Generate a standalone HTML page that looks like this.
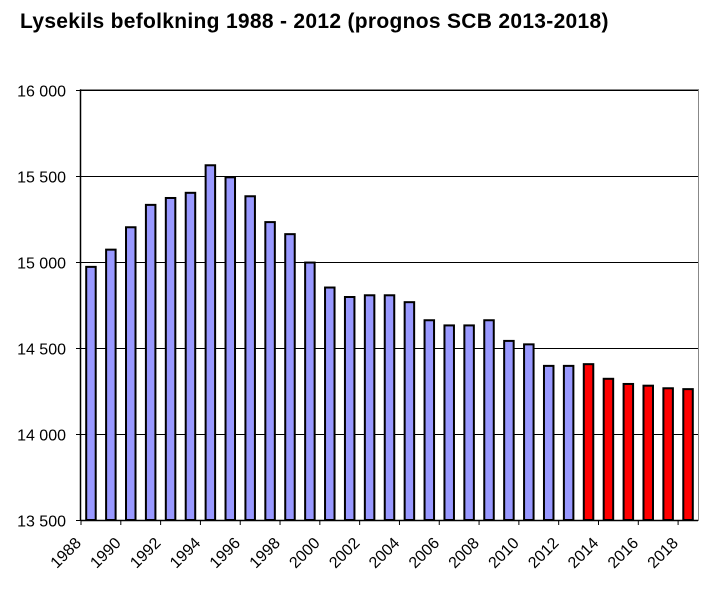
<!DOCTYPE html>
<html><head><meta charset="utf-8"><style>
body{margin:0;background:#fff;}
svg{display:block;font-family:"Liberation Sans",sans-serif;}
</style></head><body>
<svg id="chart" width="714" height="594" viewBox="0 0 714 594">
<text x="20" y="28" font-size="21" font-weight="bold" letter-spacing="0.3" fill="#000">Lysekils befolkning 1988 - 2012 (prognos SCB 2013-2018)</text>
<g id="grid"></g>
<rect x="80.5" y="89.5" width="618" height="431" fill="none" stroke="#888" stroke-width="1"/>
<g id="bars"></g>
<g id="axes"></g>
</svg>
<script>
const years=[1988,1989,1990,1991,1992,1993,1994,1995,1996,1997,1998,1999,2000,2001,2002,2003,2004,2005,2006,2007,2008,2009,2010,2011,2012,2013,2014,2015,2016,2017,2018];
const population=[14970,15070,15200,15330,15370,15400,15560,15490,15380,15230,15160,14995,14850,14795,14805,14805,14765,14660,14630,14630,14660,14540,14520,14395,14395,14405,14320,14290,14280,14265,14260];
const forecastFrom=2013;
const yTicks=[13500,14000,14500,15000,15500,16000];
const yTickLabels=["13 500","14 000","14 500","15 000","15 500","16 000"];
const xLabels=[1988,1990,1992,1994,1996,1998,2000,2002,2004,2006,2008,2010,2012,2014,2016,2018];

const NS="http://www.w3.org/2000/svg";
const L=81,R=698,T=89.5,B=520;
const yMin=13500,yMax=16000;
const band=(R-L)/years.length;
function y(v){return B-(v-yMin)/(yMax-yMin)*(B-T);}
function xStart(i){return L+i*band;}
function mk(tag,attrs,parent){const e=document.createElementNS(NS,tag);for(const k in attrs)e.setAttribute(k,attrs[k]);parent.appendChild(e);return e;}
const grid=document.getElementById('grid'),bars=document.getElementById('bars'),axes=document.getElementById('axes');
yTicks.forEach((v,i)=>{
  const yy=Math.round(y(v))+0.5;
  if(i>0){const g=mk('line',{x1:L,x2:R,y1:yy,y2:yy,stroke:'#000','stroke-width':1},grid);
  
  }
  const tk=mk('line',{x1:L-5,x2:L,y1:yy,y2:yy,stroke:'#000'},axes);
  
  
  const t=mk('text',{x:L-15,y:yy+6,'text-anchor':'end','font-size':16,fill:'#000'},axes);
  t.textContent=yTickLabels[i];
  
  
});
years.forEach((yr,i)=>{
  const bw=9.5;
  const x0=xStart(i)+(band-bw)/2;
  const b=mk('rect',{x:x0,y:y(population[i]),width:bw,height:B-y(population[i]),fill:yr>=forecastFrom?'#ff0000':'#9999ff',stroke:'#000','stroke-width':2},bars);
  
  
});
mk('line',{x1:L-0.5,x2:L-0.5,y1:T,y2:B,stroke:'#000','stroke-width':1.5},axes);
mk('line',{x1:L,x2:R,y1:B+0.5,y2:B+0.5,stroke:'#000','stroke-width':1.5},axes);
xLabels.forEach(yr=>{
  const i=years.indexOf(yr);
  const xx=xStart(i);
  const tk=mk('line',{x1:xx,x2:xx,y1:B,y2:B+5,stroke:'#000'},axes);
  
  
  const t=mk('text',{x:xx+1,y:B+24,'text-anchor':'end','font-size':16,fill:'#000',transform:'rotate(-45 '+(xx+1)+' '+(B+24)+')'},axes);
  t.textContent=yr;
  
  
});
</script>
</body></html>
